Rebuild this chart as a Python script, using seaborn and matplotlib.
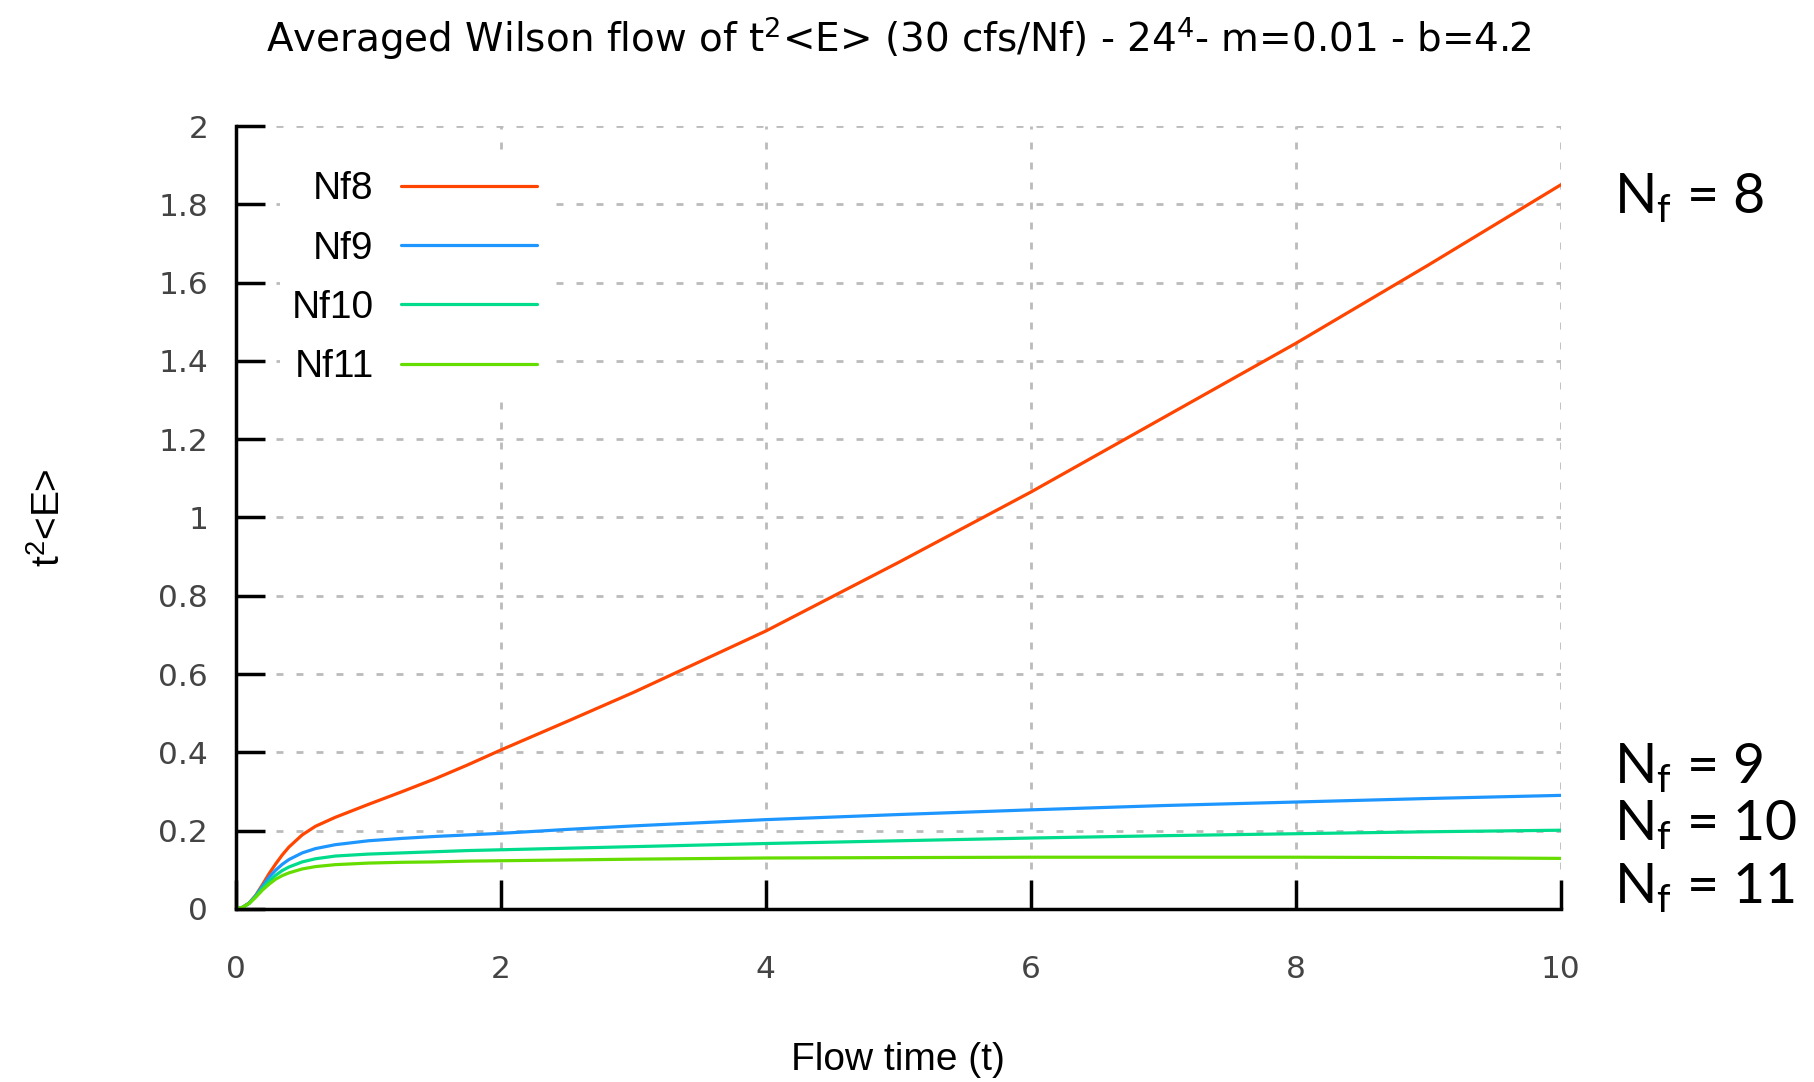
import numpy as np
import pandas as pd
import matplotlib
matplotlib.use("Agg")
import matplotlib.pyplot as plt
import matplotlib.transforms as mtransforms
import seaborn as sns

# Flow time grid
flow_time = [0, 0.05, 0.1, 0.15, 0.2, 0.25, 0.3, 0.35, 0.4, 0.5, 0.6, 0.75, 1.0,
             1.25, 1.5, 1.75, 2, 2.5, 3, 4, 5, 6, 7, 8, 9, 10]

nf8 = [0, 0.004, 0.015, 0.035, 0.062, 0.09, 0.115, 0.138, 0.158, 0.189, 0.211, 0.234, 0.267,
       0.299, 0.332, 0.368, 0.406, 0.479, 0.553, 0.71, 0.885, 1.065, 1.255, 1.445, 1.645, 1.85]
nf9 = [0, 0.004, 0.015, 0.034, 0.058, 0.081, 0.099, 0.114, 0.126, 0.143, 0.154, 0.164, 0.174,
       0.180, 0.185, 0.189, 0.193, 0.203, 0.212, 0.228, 0.241, 0.253, 0.264, 0.273, 0.282, 0.290]
nf10 = [0, 0.004, 0.014, 0.032, 0.053, 0.071, 0.086, 0.098, 0.107, 0.120, 0.128, 0.135, 0.140,
        0.143, 0.146, 0.149, 0.151, 0.155, 0.159, 0.167, 0.174, 0.181, 0.187, 0.192, 0.197, 0.201]
nf11 = [0, 0.004, 0.014, 0.030, 0.048, 0.063, 0.076, 0.085, 0.092, 0.102, 0.108, 0.113, 0.117,
        0.119, 0.120, 0.122, 0.123, 0.125, 0.127, 0.130, 0.131, 0.132, 0.132, 0.132, 0.131, 0.129]

series_names = ["Nf8", "Nf9", "Nf10", "Nf11"]
series_colors = ["#ff4500", "#1e96ff", "#00dc8c", "#66dd00"]
end_labels = [r"N$_\mathregular{f}$ = 8", r"N$_\mathregular{f}$ = 9",
              r"N$_\mathregular{f}$ = 10", r"N$_\mathregular{f}$ = 11"]
end_label_y = [1.818, 0.362, 0.215, 0.055]

x_ticks = [0, 2, 4, 6, 8, 10]
y_ticks = [0, 0.2, 0.4, 0.6, 0.8, 1, 1.2, 1.4, 1.6, 1.8, 2]

df = pd.DataFrame({"t": flow_time, "Nf8": nf8, "Nf9": nf9, "Nf10": nf10, "Nf11": nf11})

sns.set_theme(style="white")
plt.rcParams["font.family"] = ["DejaVu Sans"]
plt.rcParams["text.color"] = "black"
plt.rcParams["axes.labelcolor"] = "black"

fig = plt.figure(figsize=(18.15, 10.82), dpi=100)
ax = fig.add_axes([0.130, 0.160, 0.730, 0.7235])

for name, col in zip(series_names, series_colors):
    sns.lineplot(data=df, x="t", y=name, color=col, linewidth=2.3, label=name, ax=ax)

ax.set_xlim(0, 10)
ax.set_ylim(0, 2)
ax.set_xticks(x_ticks)
ax.set_yticks(y_ticks)
ax.set_xticklabels([f"{v:g}" for v in x_ticks])
ax.set_yticklabels([f"{v:g}" for v in y_ticks])

# gnuplot-ish look: inward ticks, only left/bottom border, dotted grid
for side in ["top", "right"]:
    ax.spines[side].set_visible(False)
for side in ["left", "bottom"]:
    ax.spines[side].set_linewidth(2.5)
    ax.spines[side].set_color("black")
ax.tick_params(bottom=True, left=True, direction="in", length=21, width=2.5, color="black",
               labelsize=22.5, labelcolor="#444444")
ax.tick_params(axis="y", pad=20)
ax.tick_params(axis="x", pad=33)
ax.grid(True, color="#bbbbbb", linewidth=2.0, linestyle=(0, (2.5, 4.7)))
ax.set_axisbelow(True)

ax.set_xlabel("Flow time (t)", fontsize=28, family="Liberation Sans", labelpad=42)
ax.set_ylabel(r"t$^\mathregular{2}$<E>", fontsize=28, family="Liberation Sans", labelpad=65)

leg = ax.legend(loc="upper right", bbox_to_anchor=(0.2506, 0.982), markerfirst=False,
                frameon=True, facecolor="white", edgecolor="none", framealpha=1,
                fancybox=False, handlelength=3.5, handletextpad=0.7,
                labelspacing=0.6, borderpad=0.3, prop={"family": "Liberation Sans", "size": 28})
for line in leg.get_lines():
    line.set_linewidth(2.3)

# labels at the right end of each curve
trans = mtransforms.blended_transform_factory(ax.transAxes, ax.transData)
for txt, yv in zip(end_labels, end_label_y):
    ax.text(1.04, yv, txt, transform=trans, fontsize=40, family="Lato",
            va="center", ha="left", color="black")

fig.text(0.495, 0.965,
         r"Averaged Wilson flow of t$^\mathregular{2}$<E> (30 cfs/Nf) - 24$^\mathregular{4}$- m=0.01 - b=4.2",
         fontsize=28, ha="center", va="center", color="black")

fig.savefig("out.png", dpi=100)
